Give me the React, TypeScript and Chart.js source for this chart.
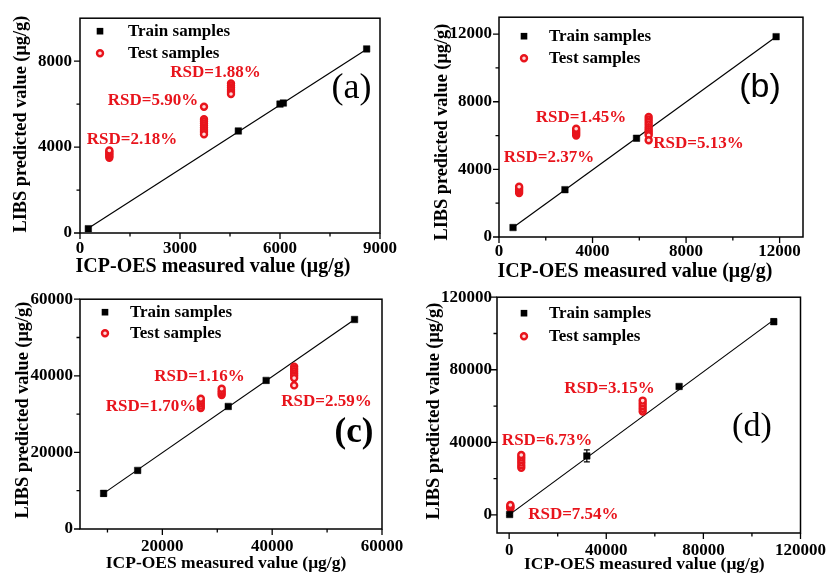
import React, { useEffect, useRef } from 'react';
import { Chart, registerables } from 'chart.js';

Chart.register(...registerables);

const SERIF = '"Liberation Serif", "Times New Roman", serif';
const SANS = '"Liberation Sans", Arial, sans-serif';
const RED = '#e8141c';
const X_TITLE = 'ICP-OES measured value (\u03bcg/g)';
const Y_TITLE = 'LIBS predicted value (\u03bcg/g)';
const LEGEND_LABELS = ['Train samples', 'Test samples'];

// ---------------- Panel (a) ----------------
const trainXA = [250, 4750, 6000, 6100, 8600];
const trainYA = [200, 4750, 6000, 6050, 8570];
const trainErrA = [0, 0, 0, 0, 0];
const testXA = [880, 880, 880, 880, 880, 880,
  3720, 3720, 3720, 3720, 3720, 3720, 3720, 3720, 3720,
  4530, 4530, 4530, 4530, 4530, 4530];
const testYA = [3500, 3570, 3640, 3710, 3780, 3840,
  5880, 5300, 5200, 5100, 5000, 4900, 4800, 4700, 4600,
  6960, 6860, 6760, 6660, 6560, 6470];
const fitXA = [250, 8600];
const fitYA = [220, 8560];
const xMajorA = [0, 3000, 6000, 9000];
const xMinorA = [1500, 4500, 7500];
const xLabelsA = ['0', '3000', '6000', '9000'];
const yMajorA = [0, 4000, 8000];
const yMinorA = [2000, 6000];
const yLabelsA = ['0', '4000', '8000'];
const rsdLabelsA = ['RSD=2.18%', 'RSD=5.90%', 'RSD=1.88%'];

// ---------------- Panel (b) ----------------
const trainXB = [600, 2820, 5880, 11850];
const trainYB = [560, 2800, 5840, 11850];
const trainErrB = [0, 0, 0, 0];
const testXB = [860, 860, 860, 860, 860,
  3300, 3300, 3300, 3300, 3300,
  6400, 6400, 6400, 6400, 6400, 6400, 6400, 6400, 6400, 6400];
const testYB = [2600, 2700, 2800, 2900, 2970,
  6000, 6100, 6200, 6300, 6400,
  7100, 6950, 6800, 6650, 6500, 6380, 6260, 6140, 6020, 5720];
const fitXB = [600, 11850];
const fitYB = [560, 11850];
const xMajorB = [0, 4000, 8000, 12000];
const xMinorB = [2000, 6000, 10000];
const xLabelsB = ['0', '4000', '8000', '12000'];
const yMajorB = [0, 4000, 8000, 12000];
const yMinorB = [2000, 6000, 10000];
const yLabelsB = ['0', '4000', '8000', '12000'];
const rsdLabelsB = ['RSD=1.45%', 'RSD=2.37%', 'RSD=5.13%'];

// ---------------- Panel (c) ----------------
const trainXC = [9300, 15500, 32000, 38900, 55000];
const trainYC = [9300, 15300, 32000, 38800, 54700];
const trainErrC = [700, 0, 0, 0, 0];
const testXC = [27000, 27000, 27000, 27000, 27000,
  30800, 30800, 30800, 30800,
  44000, 44000, 44000, 44000, 44000, 44000, 44000];
const testYC = [31600, 32200, 32800, 33400, 34000,
  35000, 35500, 36000, 36600,
  42400, 41800, 41200, 40600, 40000, 39400, 37500];
const fitXC = [9300, 55000];
const fitYC = [9300, 54700];
const xMajorC = [20000, 40000, 60000];
const xMinorC = [10000, 30000, 50000];
const xLabelsC = ['20000', '40000', '60000'];
const yMajorC = [0, 20000, 40000, 60000];
const yMinorC = [10000, 30000, 50000];
const yLabelsC = ['0', '20000', '40000', '60000'];
const rsdLabelsC = ['RSD=1.16%', 'RSD=1.70%', 'RSD=2.59%'];

// ---------------- Panel (d) ----------------
const trainXD = [200, 32000, 70000, 109000];
const trainYD = [200, 32500, 70800, 106500];
const trainErrD = [600, 3300, 800, 1500];
const testXD = [500, 500, 500, 500,
  5000, 5000, 5000, 5000, 5000, 5000,
  55000, 55000, 55000, 55000, 55000];
const testYD = [3500, 4200, 4800, 5400,
  26000, 27400, 28800, 30200, 31600, 33000,
  57000, 58500, 60000, 61500, 63000];
const fitXD = [0, 109000];
const fitYD = [0, 107500];
const xMajorD = [0, 40000, 80000, 120000];
const xMinorD = [20000, 60000, 100000];
const xLabelsD = ['0', '40000', '80000', '120000'];
const yMajorD = [0, 40000, 80000, 120000];
const yMinorD = [20000, 60000, 100000];
const yLabelsD = ['0', '40000', '80000', '120000'];
const rsdLabelsD = ['RSD=3.15%', 'RSD=6.73%', 'RSD=7.54%'];

type Pt = { x: number; y: number };
type Panel = {
  key: string;
  box: { x: number; y: number; w: number; h: number };
  plot: { left: number; top: number; right: number; bottom: number };
  xMin: number; xMax: number; yMin: number; yMax: number;
  xMajor: number[]; xMinor: number[]; xLabels: string[];
  yMajor: number[]; yMinor: number[]; yLabels: string[];
  trainX: number[]; trainY: number[]; trainErr: number[];
  testX: number[]; testY: number[]; fitX: number[]; fitY: number[];
  rsd: string[]; rsdAt: Pt[];
  tag: string; tagAt: Pt; tagFont: string;
  xTitleSize: number; xTitleOff: { dx: number; dy: number };
  yTitleSize: number; yTitleOff: { dx: number; dy: number };
  legend: { markerDx: number; textDx: number; row1: number; row2: number };
  xPad: number; yPad: number;
};

const panels: Panel[] = [
  {
    key: 'a', box: { x: 0, y: 0, w: 416, h: 282 }, plot: { left: 80, top: 4, right: 380, bottom: 233 },
    xMin: 0, xMax: 9000, yMin: 0, yMax: 10000,
    xMajor: xMajorA, xMinor: xMinorA, xLabels: xLabelsA, yMajor: yMajorA, yMinor: yMinorA, yLabels: yLabelsA,
    trainX: trainXA, trainY: trainYA, trainErr: trainErrA, testX: testXA, testY: testYA, fitX: fitXA, fitY: fitYA,
    rsd: rsdLabelsA, rsdAt: [{ x: 1560, y: 4352 }, { x: 2190, y: 6154 }, { x: 4065, y: 7473 }],
    tag: '(a)', tagAt: { x: 8145, y: 6726 }, tagFont: `36px ${SERIF}`,
    xTitleSize: 20, xTitleOff: { dx: -17, dy: 34 }, yTitleSize: 18.3, yTitleOff: { dx: -59, dy: -1.5 },
    legend: { markerDx: 20, textDx: 48, row1: 13, row2: 35 }, xPad: 5, yPad: 8,
  },
  {
    key: 'b', box: { x: 416, y: 0, w: 417, h: 282 }, plot: { left: 499, top: 6, right: 803, bottom: 237 },
    xMin: 0, xMax: 13000, yMin: 0, yMax: 13000,
    xMajor: xMajorB, xMinor: xMinorB, xLabels: xLabelsB, yMajor: yMajorB, yMinor: yMinorB, yLabels: yLabelsB,
    trainX: trainXB, trainY: trainYB, trainErr: trainErrB, testX: testXB, testY: testYB, fitX: fitXB, fitY: fitYB,
    rsd: rsdLabelsB, rsdAt: [{ x: 3506, y: 7035 }, { x: 2138, y: 4671 }, { x: 8531, y: 5515 }],
    tag: '(b)', tagAt: { x: 11160, y: 8836 }, tagFont: `34px ${SANS}`,
    xTitleSize: 20, xTitleOff: { dx: -16, dy: 35 }, yTitleSize: 18.3, yTitleOff: { dx: -57, dy: 5 },
    legend: { markerDx: 25, textDx: 50, row1: 19, row2: 41 }, xPad: 4.5, yPad: 7,
  },
  {
    key: 'c', box: { x: 0, y: 282, w: 416, h: 295 }, plot: { left: 80, top: 299, right: 382, bottom: 529 },
    xMin: 5000, xMax: 60000, yMin: 0, yMax: 60000,
    xMajor: xMajorC, xMinor: xMinorC, xLabels: xLabelsC, yMajor: yMajorC, yMinor: yMinorC, yLabels: yLabelsC,
    trainX: trainXC, trainY: trainYC, trainErr: trainErrC, testX: testXC, testY: testYC, fitX: fitXC, fitY: fitYC,
    rsd: rsdLabelsC, rsdAt: [{ x: 26760, y: 39735 }, { x: 17930, y: 31830 }, { x: 49890, y: 33213 }],
    tag: '(c)', tagAt: { x: 54900, y: 25046 }, tagFont: `bold 35px ${SERIF}`,
    xTitleSize: 17.5, xTitleOff: { dx: -5, dy: 34 }, yTitleSize: 18.3, yTitleOff: { dx: -57, dy: -4 },
    legend: { markerDx: 25, textDx: 50, row1: 13, row2: 34 }, xPad: 7.5, yPad: 7,
  },
  {
    key: 'd', box: { x: 416, y: 282, w: 417, h: 295 }, plot: { left: 497, top: 297, right: 803, bottom: 533 },
    xMin: -5000, xMax: 120000, yMin: -10000, yMax: 120000,
    xMajor: xMajorD, xMinor: xMinorD, xLabels: xLabelsD, yMajor: yMajorD, yMinor: yMinorD, yLabels: yLabelsD,
    trainX: trainXD, trainY: trainYD, trainErr: trainErrD, testX: testXD, testY: testYD, fitX: fitXD, fitY: fitYD,
    rsd: rsdLabelsD, rsdAt: [{ x: 41365, y: 69700 }, { x: 15630, y: 40840 }, { x: 26455, y: 0 }],
    tag: '(d)', tagAt: { x: 99985, y: 48550 }, tagFont: `34px ${SERIF}`,
    xTitleSize: 17.5, xTitleOff: { dx: -4.5, dy: 31 }, yTitleSize: 18.3, yTitleOff: { dx: -63, dy: -4 },
    legend: { markerDx: 27, textDx: 52, row1: 16, row2: 39 }, xPad: 7, yPad: 5,
  },
];

function drawTestMarker(ctx: CanvasRenderingContext2D, x: number, y: number) {
  ctx.beginPath();
  ctx.arc(x, y, 3, 0, Math.PI * 2);
  ctx.fillStyle = '#ffd8d8';
  ctx.fill();
  ctx.lineWidth = 2.4;
  ctx.strokeStyle = RED;
  ctx.stroke();
}

function panelPlugin(p: Panel) {
  return {
    id: 'panelDeco' + p.key,
    beforeDatasetsDraw(chart: any) {
      const { ctx } = chart;
      const xs = chart.scales.x;
      const ys = chart.scales.y;
      ctx.save();
      ctx.strokeStyle = '#000';
      ctx.lineWidth = 1.2;
      ctx.beginPath();
      p.trainX.forEach((xv, i) => {
        const e = p.trainErr[i];
        if (!e) return;
        const px = xs.getPixelForValue(xv);
        const y1 = ys.getPixelForValue(p.trainY[i] - e);
        const y2 = ys.getPixelForValue(p.trainY[i] + e);
        ctx.moveTo(px, y1); ctx.lineTo(px, y2);
        ctx.moveTo(px - 3, y1); ctx.lineTo(px + 3, y1);
        ctx.moveTo(px - 3, y2); ctx.lineTo(px + 3, y2);
      });
      ctx.stroke();
      ctx.restore();
    },
    afterDraw(chart: any) {
      const { ctx, chartArea: a } = chart;
      const xs = chart.scales.x;
      const ys = chart.scales.y;
      ctx.save();
      ctx.strokeStyle = '#000';
      ctx.lineWidth = 1.5;
      ctx.strokeRect(a.left, a.top, a.right - a.left, a.bottom - a.top);
      ctx.lineWidth = 1.3;
      ctx.beginPath();
      p.xMajor.forEach((v) => { const px = xs.getPixelForValue(v); ctx.moveTo(px, a.bottom); ctx.lineTo(px, a.bottom + 6); });
      p.xMinor.forEach((v) => { const px = xs.getPixelForValue(v); ctx.moveTo(px, a.bottom); ctx.lineTo(px, a.bottom + 3.5); });
      p.yMajor.forEach((v) => { const py = ys.getPixelForValue(v); ctx.moveTo(a.left, py); ctx.lineTo(a.left - 6, py); });
      p.yMinor.forEach((v) => { const py = ys.getPixelForValue(v); ctx.moveTo(a.left, py); ctx.lineTo(a.left - 3.5, py); });
      ctx.stroke();

      // axis titles
      ctx.fillStyle = '#000';
      ctx.textAlign = 'center';
      ctx.textBaseline = 'middle';
      ctx.font = `bold ${p.xTitleSize}px ${SERIF}`;
      ctx.fillText(X_TITLE, (a.left + a.right) / 2 + p.xTitleOff.dx, a.bottom + p.xTitleOff.dy);
      ctx.save();
      ctx.translate(a.left + p.yTitleOff.dx, (a.top + a.bottom) / 2 + p.yTitleOff.dy);
      ctx.rotate(-Math.PI / 2);
      ctx.font = `bold ${p.yTitleSize}px ${SERIF}`;
      ctx.fillText(Y_TITLE, 0, 0);
      ctx.restore();

      // legend
      const L = p.legend;
      const mx = a.left + L.markerDx;
      ctx.fillStyle = '#000';
      ctx.fillRect(mx - 3.3, a.top + L.row1 - 3.3, 6.6, 6.6);
      drawTestMarker(ctx, mx, a.top + L.row2);
      ctx.fillStyle = '#000';
      ctx.textAlign = 'left';
      ctx.font = `bold 17px ${SERIF}`;
      ctx.fillText(LEGEND_LABELS[0], a.left + L.textDx, a.top + L.row1);
      ctx.fillText(LEGEND_LABELS[1], a.left + L.textDx, a.top + L.row2);

      // RSD annotations
      ctx.textAlign = 'center';
      ctx.fillStyle = RED;
      ctx.font = `bold 17px ${SERIF}`;
      p.rsd.forEach((t, i) => {
        ctx.fillText(t, xs.getPixelForValue(p.rsdAt[i].x), ys.getPixelForValue(p.rsdAt[i].y));
      });

      // panel tag
      ctx.fillStyle = '#000';
      ctx.font = p.tagFont;
      ctx.fillText(p.tag, xs.getPixelForValue(p.tagAt.x), ys.getPixelForValue(p.tagAt.y));
      ctx.restore();
    },
  };
}

const YW = 70;
const XH = 34;

function PanelChart({ p }: { p: Panel }) {
  const ref = useRef<HTMLCanvasElement>(null);
  useEffect(() => {
    if (!ref.current) return;
    const tickFont = { family: SERIF, size: 17, weight: 'bold' as const };
    const chart = new Chart(ref.current, {
      type: 'scatter',
      data: {
        datasets: [
          {
            label: LEGEND_LABELS[0],
            data: p.trainX.map((x, i) => ({ x, y: p.trainY[i] })),
            pointStyle: 'rect',
            pointRadius: 4.6,
            backgroundColor: '#000',
            borderColor: '#000',
            borderWidth: 0.5,
          },
          {
            label: LEGEND_LABELS[1],
            data: p.testX.map((x, i) => ({ x, y: p.testY[i] })),
            pointStyle: 'circle',
            pointRadius: 3,
            borderWidth: 2.4,
            borderColor: RED,
            backgroundColor: '#ffd8d8',
          },
          {
            label: 'fit',
            data: p.fitX.map((x, i) => ({ x, y: p.fitY[i] })),
            showLine: true,
            borderColor: '#000',
            borderWidth: 1.2,
            pointRadius: 0,
            fill: false,
          } as any,
        ],
      },
      options: {
        responsive: false,
        animation: false,
        events: [],
        layout: {
          padding: {
            left: p.plot.left - p.box.x - YW,
            right: p.box.x + p.box.w - p.plot.right,
            top: p.plot.top - p.box.y,
            bottom: p.box.y + p.box.h - p.plot.bottom - XH,
          },
        },
        plugins: { legend: { display: false }, tooltip: { enabled: false }, title: { display: false } },
        scales: {
          x: {
            type: 'linear', position: 'bottom', min: p.xMin, max: p.xMax,
            grid: { display: false, drawTicks: false, tickLength: 0 }, border: { display: false },
            afterBuildTicks: (s: any) => {
              s.ticks = [...p.xMajor, ...p.xMinor].sort((m, n) => m - n).map((v) => ({ value: v }));
            },
            afterFit: (s: any) => { s.height = XH; },
            ticks: {
              autoSkip: false, maxRotation: 0, padding: p.xPad, color: '#000', font: tickFont,
              callback: (v: any) => { const i = p.xMajor.indexOf(Number(v)); return i >= 0 ? p.xLabels[i] : ''; },
            },
          },
          y: {
            type: 'linear', position: 'left', min: p.yMin, max: p.yMax,
            grid: { display: false, drawTicks: false, tickLength: 0 }, border: { display: false },
            afterBuildTicks: (s: any) => {
              s.ticks = [...p.yMajor, ...p.yMinor].sort((m, n) => m - n).map((v) => ({ value: v }));
            },
            afterFit: (s: any) => { s.width = YW; },
            ticks: {
              autoSkip: false, padding: p.yPad, color: '#000', font: tickFont,
              callback: (v: any) => { const i = p.yMajor.indexOf(Number(v)); return i >= 0 ? p.yLabels[i] : ''; },
            },
          },
        },
      } as any,
      plugins: [panelPlugin(p)],
    });
    return () => chart.destroy();
  }, [p]);
  return (
    <canvas
      ref={ref}
      width={p.box.w}
      height={p.box.h}
      style={{ position: 'absolute', left: p.box.x, top: p.box.y, width: p.box.w, height: p.box.h }}
    />
  );
}

export default function App() {
  return (
    <div style={{ position: 'fixed', left: 0, top: 0, width: 833, height: 577, background: '#fff' }}>
      {panels.map((p) => (
        <PanelChart key={p.key} p={p} />
      ))}
    </div>
  );
}
